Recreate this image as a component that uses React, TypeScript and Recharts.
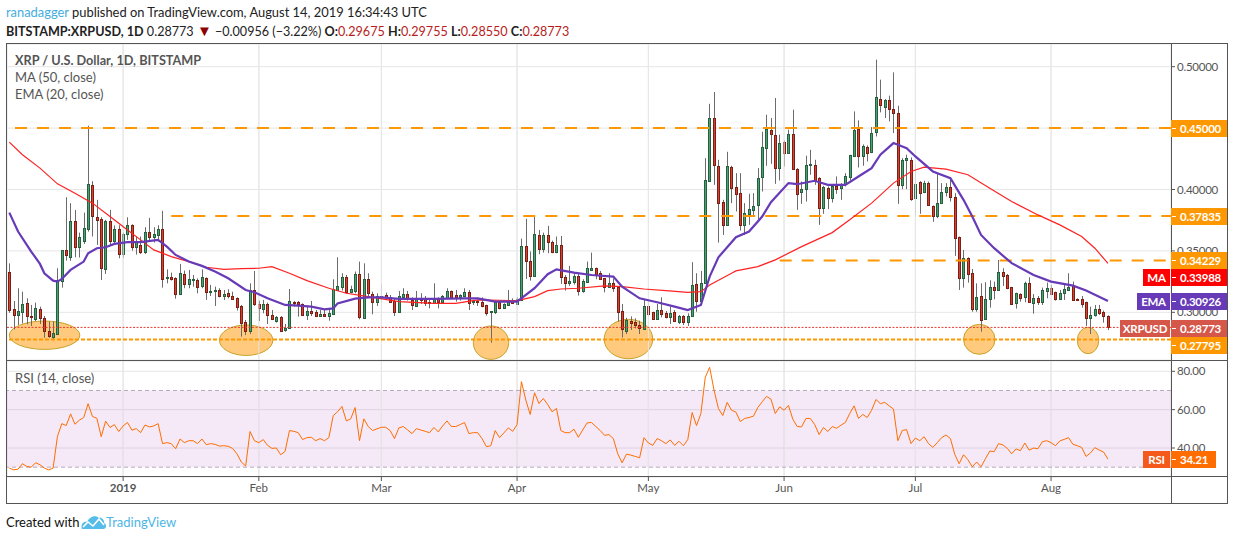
import { Bar, CartesianGrid, ComposedChart, Line, ReferenceArea, ReferenceLine, XAxis, YAxis } from "recharts"

// daily candles, Dec 6 2018 to Aug 14 2019
const opens = [
  .3329,.3024,.2981,.3005,.3076,.2970,.2948,.3024,.2951,.2845,
  .2802,.2826,.3258,.3505,.3454,.3742,.3535,.3581,.3682,.4035,
  .3774,.3758,.3356,.3745,.3581,.3679,.3478,.3636,.3709,.3535,
  .3549,.3492,.3652,.3617,.3633,.3677,.3280,.3285,.3277,.3152,
  .3310,.3234,.3266,.3261,.3217,.3277,.3174,.3177,.3179,.3136,
  .3155,.3130,.3114,.3049,.2918,.2851,.3185,.3071,.3027,.3065,
  .2976,.2932,.2959,.2853,.2872,.3084,.3082,.3065,.2981,.3008,
  .3000,.2970,.2984,.2970,.2989,.3185,.3209,.3285,.3166,.3174,
  .3310,.2956,.3269,.3147,.3087,.3122,.3139,.3128,.3095,.3005,
  .3122,.3147,.3103,.3052,.3114,.3106,.3082,.3079,.3114,.3087,
  .3120,.3171,.3139,.3125,.3133,.3163,.3082,.3090,.3087,.3057,
  .3005,.3003,.3082,.3038,.3062,.3098,.3071,.3103,.3538,.3421,
  .3299,.3628,.3516,.3628,.3576,.3492,.3546,.3285,.3242,.3247,
  .3296,.3177,.3247,.3345,.3359,.3318,.3277,.3209,.3236,.3209,
  .3008,.2851,.2932,.2918,.2897,.2867,.3049,.3000,.2948,.3016,
  .2995,.2965,.3000,.2924,.2970,.2924,.2973,.3231,.3092,.3236,
  .4073,.4582,.4193,.3897,.3707,.4182,.4023,.3970,.3707,.3802,
  .3837,.3870,.4098,.4334,.4487,.4443,.4179,.4386,.4294,.4451,
  .4166,.3976,.4000,.4196,.4198,.4092,.3853,.4014,.3927,.4030,
  .4012,.4041,.4104,.4275,.4492,.4269,.4345,.4302,.4465,.4736,
  .4668,.4728,.4655,.4622,.4033,.4239,.4239,.3927,.4062,.3981,
  .4054,.3864,.3788,.3891,.3976,.4019,.3937,.3611,.3283,.3440,
  .3318,.3030,.3130,.2948,.3106,.3207,.3182,.3329,.3302,.3207,
  .3079,.3147,.3125,.3236,.3079,.3114,.3087,.3177,.3196,.3163,
  .3111,.3160,.3185,.3212,.3106,.3106,.3082,.2956,.2981,.3024,
  .3000,.29675,
]
const highs = [
  .3399,.3092,.3196,.3168,.3114,.3060,.3079,.3046,.2970,.2924,
  .2924,.3359,.3508,.3937,.3889,.3834,.3649,.3812,.4519,.4068,
  .3916,.3774,.3753,.3834,.3707,.3709,.3649,.3774,.3717,.3617,
  .3617,.3693,.3769,.3693,.3709,.3826,.3350,.3323,.3285,.3394,
  .3340,.3345,.3304,.3277,.3350,.3285,.3223,.3209,.3196,.3182,
  .3188,.3168,.3122,.3060,.2937,.3236,.3337,.3095,.3101,.3079,
  .3019,.2970,.2970,.2905,.3190,.3092,.3092,.3073,.3046,.3092,
  .3019,.3019,.3024,.3032,.3269,.3448,.3318,.3304,.3217,.3332,
  .3413,.3399,.3318,.3168,.3155,.3231,.3160,.3141,.3114,.3174,
  .3196,.3174,.3122,.3174,.3155,.3133,.3101,.3236,.3122,.3141,
  .3196,.3177,.3182,.3147,.3196,.3182,.3101,.3101,.3122,.3062,
  .3011,.3095,.3087,.3073,.3182,.3114,.3122,.3600,.3761,.3495,
  .3785,.3671,.3649,.3704,.3584,.3617,.3622,.3304,.3378,.3318,
  .3318,.3269,.3413,.3486,.3364,.3337,.3280,.3318,.3277,.3212,
  .3068,.2956,.2967,.2951,.2932,.3101,.3087,.3005,.3068,.3122,
  .3011,.3046,.3019,.2978,.2978,.2992,.3408,.3318,.3337,.4255,
  .4698,.4794,.4242,.3916,.4307,.4193,.4133,.4133,.3889,.3965,
  .3970,.4174,.4470,.4609,.4582,.4745,.4446,.4399,.4487,.4650,
  .4174,.4065,.4275,.4323,.4242,.4101,.4030,.4025,.4043,.4106,
  .4052,.4133,.4283,.4636,.4563,.4367,.4359,.4508,.5057,.4894,
  .4736,.4764,.4954,.4682,.4255,.4283,.4261,.4201,.4068,.4071,
  .4065,.3870,.4133,.4052,.4052,.4079,.3970,.3617,.3508,.3448,
  .3353,.3236,.3236,.3245,.3261,.3250,.3426,.3359,.3312,.3207,
  .3160,.3155,.3250,.3285,.3149,.3133,.3201,.3242,.3223,.3168,
  .3182,.3236,.3318,.3250,.3114,.3133,.3087,.3046,.3060,.3060,
  .3014,.29755,
]
const lows = [
  .2997,.2861,.2897,.2910,.2902,.2889,.2929,.2905,.2793,.2793,
  .2774,.2815,.3201,.3421,.3419,.3448,.3446,.3557,.3657,.3617,
  .3549,.3263,.3312,.3543,.3549,.3440,.3443,.3590,.3503,.3470,
  .3475,.3475,.3576,.3568,.3576,.3201,.3236,.3258,.3111,.3150,
  .3196,.3196,.3209,.3155,.3196,.3101,.3133,.3052,.3122,.3101,
  .3114,.3101,.3014,.2802,.2815,.2823,.3052,.2929,.2992,.2905,
  .2937,.2916,.2842,.2842,.2870,.3046,.2965,.2976,.2937,.2970,
  .2965,.2965,.2962,.2932,.2984,.3182,.3177,.3160,.3155,.3155,
  .2943,.2951,.3128,.2984,.3052,.3087,.3101,.3079,.2970,.3000,
  .3101,.3095,.3019,.3046,.3068,.3052,.3032,.3073,.3032,.3073,
  .3114,.3122,.3087,.3095,.3122,.3019,.3060,.3052,.3041,.2973,
  .2753,.2986,.3024,.3032,.3060,.3068,.3068,.3101,.3272,.3258,
  .3296,.3473,.3486,.3481,.3481,.3481,.3231,.3177,.3215,.3226,
  .3136,.3160,.3245,.3340,.3269,.3269,.3163,.3204,.3166,.2924,
  .2796,.2823,.2856,.2870,.2823,.2861,.2970,.2943,.2946,.2959,
  .2951,.2905,.2924,.2905,.2897,.2889,.2970,.3005,.3087,.3231,
  .4065,.4038,.3568,.3630,.3707,.3889,.3821,.3666,.3630,.3712,
  .3793,.3753,.3984,.4193,.4209,.4046,.4073,.4188,.4291,.4160,
  .3834,.3883,.3902,.4120,.4038,.3712,.3802,.3840,.3894,.3965,
  .3916,.4025,.4073,.4269,.4179,.4193,.4228,.4296,.4432,.4628,
  .4582,.4554,.4459,.3883,.4003,.4003,.3908,.3780,.3802,.3970,
  .3867,.3737,.3766,.3889,.3943,.3902,.3459,.3182,.3201,.3242,
  .3005,.3005,.2842,.2937,.3038,.3106,.3177,.3215,.3188,.3062,
  .3030,.3087,.3082,.3082,.2989,.3060,.3060,.3114,.3141,.3095,
  .3101,.3101,.3177,.3101,.3095,.3038,.2889,.2823,.2965,.2978,
  .2916,.2855,
]
const closes = [
  .3019,.2978,.3011,.3068,.2973,.2967,.3032,.2956,.2851,.2810,
  .2829,.3261,.3508,.3470,.3742,.3535,.3611,.3685,.4046,.3788,
  .3755,.3364,.3742,.3581,.3679,.3478,.3636,.3709,.3535,.3571,
  .3492,.3655,.3617,.3636,.3677,.3274,.3285,.3274,.3152,.3318,
  .3234,.3269,.3269,.3209,.3288,.3168,.3177,.3179,.3133,.3147,
  .3133,.3111,.3046,.2916,.2851,.3185,.3071,.3038,.3065,.2981,
  .2948,.2959,.2851,.2875,.3090,.3079,.3068,.2981,.3008,.2997,
  .2973,.2984,.2967,.2992,.3188,.3212,.3285,.3168,.3188,.3310,
  .2965,.3269,.3155,.3087,.3130,.3136,.3122,.3087,.3005,.3130,
  .3147,.3106,.3060,.3114,.3103,.3079,.3073,.3114,.3087,.3130,
  .3171,.3128,.3125,.3141,.3163,.3079,.3092,.3084,.3052,.2995,
  .3011,.3082,.3038,.3065,.3095,.3079,.3106,.3538,.3421,.3299,
  .3636,.3519,.3628,.3576,.3492,.3546,.3285,.3242,.3253,.3296,
  .3177,.3253,.3359,.3359,.3312,.3274,.3209,.3236,.3201,.3005,
  .2861,.2937,.2916,.2897,.2872,.3049,.2984,.2948,.3016,.2986,
  .2962,.2995,.2932,.2970,.2924,.2970,.3223,.3092,.3236,.4079,
  .4582,.4196,.3886,.3707,.4193,.4012,.3967,.3707,.3807,.3840,
  .3867,.4092,.4345,.4492,.4448,.4179,.4378,.4294,.4451,.4166,
  .3967,.4003,.4198,.4209,.4079,.3853,.4019,.3927,.4030,.4003,
  .4043,.4109,.4280,.4487,.4269,.4353,.4294,.4459,.4753,.4685,
  .4728,.4652,.4620,.4033,.4239,.4258,.3924,.4043,.3973,.4054,
  .3870,.3788,.3891,.3981,.4019,.3935,.3603,.3283,.3440,.3315,
  .3030,.3125,.2937,.3106,.3204,.3185,.3326,.3299,.3201,.3071,
  .3155,.3120,.3236,.3087,.3114,.3087,.3179,.3198,.3152,.3111,
  .3155,.3188,.3207,.3103,.3103,.3071,.2951,.2978,.3027,.2995,
  .2973,.28773,
]

const rsi = [
  29.5,28.6,29,31.8,30.4,30,32.3,31.3,29.5,28.6,
  29.5,46.1,52.7,51.7,57.8,52.4,54.5,55.9,63.1,56.4,
  55.5,45.9,54,50.7,52.2,48.6,51.5,53.3,49.3,50.1,
  48,52,51,51.5,52.7,42.3,42.8,42.3,39.6,44.7,
  42.8,43.8,43.8,42.3,44.7,41.7,42.3,41.9,41,41.2,
  40.9,39.8,37,32.7,30.6,48.6,43.8,42.8,44.4,41.4,
  39.8,40,36.5,38.2,49.1,48.7,48,44.4,45.4,45.6,
  43.8,44.9,43.8,45.4,56.9,58.9,61.7,54.1,55.2,61.1,
  43.8,55.2,51.2,49.1,50,50.8,50.8,49.1,44.9,50.5,
  51.2,49.4,47.5,50.1,49.4,48.7,48,50.7,48.4,51.5,
  54.1,51.2,51.2,52.2,53.3,47.5,48,48,44.9,40.7,
  41.2,49.1,45.4,47.9,50.5,48.7,52.2,74.6,65,57.5,
  68.8,63.2,65.8,62.7,58.9,60.6,49.1,48,48,49.8,
  45.6,49.4,53.1,53.3,51.2,49.1,46.6,47,44.9,37,
  32.3,36.8,36.3,35.6,34.9,45.4,42.6,41.4,44.9,43.8,
  42.3,44.2,41.4,43.5,41.2,44.4,58.5,51.7,58,76.9,
  82.1,70.2,60.6,56.9,63.8,59.7,58.7,53.8,55.4,55.9,
  56.6,61.1,64.1,66.9,65.5,58,61.5,59.7,62.2,55,
  51.2,51,55.4,55.4,52.2,47,50.7,48.6,51.2,50.3,
  51.9,53.3,58,62,55.4,57.5,55.9,59.7,65.3,63.1,
  63.8,62,60.3,43.8,49.1,49.6,42.3,45.2,43.8,45.9,
  42.3,40.3,42.8,45.4,46.8,44.9,36.7,31.8,36.5,33.9,
  30.2,32.7,30.2,34.4,38.4,38.1,42.3,41.6,39.8,37,
  39.5,38.6,42.6,38.9,40,39.6,43.3,43.8,42.8,41.2,
  43.7,44.5,45.4,41.9,41.2,40.3,35.6,37.4,40.2,38.9,
  37.9,34.21,
]

// moving averages were read at their bends, the line joins the days in between
const emaDays = [0,2,5,7,8,10,11,12,14,17,18,20,22,24,27,30,34,36,38,41,44,47,50,54,56,59,63,66,69,72,74,75,79,82,85,89,97,104,107,111,116,120,123,125,129,133,138,140,144,148,152,155,158,160,162,166,169,172,174,178,180,184,187,191,194,197,199,202,205,207,211,215,218,220,222,225,229,234,238,243,246,251]
const emaValues = [.3812,.3658,.3495,.3394,.3318,.3258,.3250,.3272,.3345,.3413,.3481,.3522,.3530,.3557,.3571,.3571,.3590,.3535,.3467,.3413,.3378,.3332,.3277,.3182,.3163,.3114,.3060,.3054,.3046,.3024,.3032,.3073,.3111,.3122,.3122,.3109,.3109,.3114,.3114,.3087,.3087,.3196,.3310,.3350,.3323,.3304,.3291,.3209,.3114,.3082,.3046,.3019,.3060,.3291,.3448,.3611,.3658,.3780,.3897,.4052,.4043,.4071,.4038,.4038,.4106,.4174,.4283,.4378,.4337,.4269,.4147,.4092,.3916,.3780,.3630,.3522,.3400,.3304,.3250,.3217,.3177,.30926]
const maDays = [0,3,7,11,15,19,23,27,30,33,37,41,45,49,53,57,60,64,68,73,77,82,89,97,102,107,116,120,123,126,130,136,140,145,150,155,158,160,165,166,171,175,181,188,192,197,202,206,209,214,219,224,229,235,240,245,248,251]
const maValues = [.4386,.4283,.4174,.4046,.3970,.3889,.3780,.3671,.3590,.3508,.3454,.3413,.3367,.3350,.3356,.3359,.3372,.3318,.3258,.3196,.3155,.3128,.3087,.3073,.3073,.3101,.3095,.3128,.3177,.3190,.3196,.3215,.3209,.3190,.3177,.3163,.3168,.3223,.3318,.3337,.3372,.3427,.3535,.3649,.3753,.3889,.4052,.4147,.4182,.4166,.4120,.4011,.3902,.3793,.3712,.3617,.3522,.33988]

const monthTicks = [26, 57, 85, 116, 146, 177, 207, 238]
const monthLabels = ["2019", "Feb", "Mar", "Apr", "May", "Jun", "Jul", "Aug"]
const priceTicks = [0.3, 0.35, 0.4, 0.45, 0.5]
const rsiTicks = [40, 60, 80]

const table = opens.map((open, i) => ({
  day: i,
  open,
  high: highs[i],
  low: lows[i],
  close: closes[i],
  rsi: rsi[i],
  ema: emaDays.includes(i) ? emaValues[emaDays.indexOf(i)] : null,
  ma: maDays.includes(i) ? maValues[maDays.indexOf(i)] : null,
}))

const FONT = "Lato, 'Open Sans', sans-serif"
const AXIS_COLOR = "#555"
const GRID = "#e6e6e6"
const LEVEL = "#ff9800"
const xDomain = [-0.53, 265.4]

function Candle(props: any) {
  const { x, width, y, height, payload } = props
  const h = Math.abs(height)
  const perUnit = h / (payload.high - payload.low)
  const cx = Math.round(x + width / 2) + 0.5
  const up = payload.close >= payload.open
  const top = Math.round(y + (payload.high - Math.max(payload.open, payload.close)) * perUnit) + 0.5
  const bottom = Math.round(y + (payload.high - Math.min(payload.open, payload.close)) * perUnit) + 0.5
  return (
    <g>
      <line x1={cx} x2={cx} y1={y} y2={y + h} stroke="#6b6b6b" strokeWidth={1} />
      <rect
        x={cx - 1}
        y={top}
        width={2}
        height={Math.max(bottom - top, 1)}
        fill={up ? "#4f9f76" : "#d8412f"}
        stroke={up ? "#25613f" : "#7a1f14"}
        strokeWidth={1}
      />
    </g>
  )
}

function Ellipse(props: any) {
  const { x, y, width, height } = props
  return (
    <ellipse
      cx={x + width / 2}
      cy={y + height / 2}
      rx={width / 2}
      ry={height / 2}
      fill="#ffa726"
      fillOpacity={0.6}
      stroke="#c9a227"
      strokeWidth={1}
    />
  )
}

function MonthTick(props: any) {
  const { x, y, payload } = props
  const label = monthLabels[monthTicks.indexOf(payload.value)]
  return (
    <text
      x={x}
      y={y + 9}
      textAnchor="middle"
      fontFamily={FONT}
      fontSize={11.5}
      fontWeight={label === "2019" ? 700 : 400}
      fill={AXIS_COLOR}
    >
      {label}
    </text>
  )
}

function Tag({ top, value, name, color, nameColor, nameLeft, right = 1227 }: any) {
  return (
    <>
      {name ? (
        <div
          style={{
            position: "absolute",
            left: nameLeft,
            top,
            width: 1170 - nameLeft,
            height: 17,
            lineHeight: "17px",
            textAlign: "center",
            background: nameColor || color,
            color: "#fff",
            fontSize: 11.5,
            letterSpacing: -0.25,
            fontWeight: 700,
          }}
        >
          {name}
        </div>
      ) : null}
      <div
        style={{
          position: "absolute",
          left: 1171,
          top,
          width: right - 1171,
          height: 17,
          lineHeight: "17px",
          background: color,
          color: "#fff",
          fontSize: 11.5,
          letterSpacing: -0.25,
          fontWeight: 700,
          paddingLeft: 9,
          boxSizing: "border-box",
        }}
      >
        <span style={{ position: "absolute", left: 1, top: 8, width: 4, height: 1, background: "#fff" }} />
        {value}
      </div>
    </>
  )
}

function Rule({ left, top, width, height }: any) {
  return <div style={{ position: "absolute", left, top, width, height, background: AXIS_COLOR }} />
}

function Logo() {
  return (
    <svg width="26" height="16" viewBox="0 0 26 16" style={{ position: "absolute", left: 81, top: 514 }}>
      <path
        d="M1 15 C-1 10 3 7 6 8 C8 3 14 0 18 4 C20 3 24 6 23 9 C26 10 26 15 22 15 Z"
        fill="#56bde8"
      />
      <path d="M2 13 L7 8 L12 12 L18 5 L23 11" fill="none" stroke="#fff" strokeWidth={1.6} />
    </svg>
  )
}

const axisTick = { fontSize: 11.5, fill: AXIS_COLOR, fontFamily: FONT, letterSpacing: -0.25 }

export default function App() {
  return (
    <div
      style={{
        position: "absolute",
        left: 0,
        top: 0,
        width: 1234,
        height: 540,
        background: "#fff",
        fontFamily: FONT,
        overflow: "hidden",
      }}
    >
      <div style={{ position: "absolute", left: 6, top: 4, fontSize: 12.9, lineHeight: "17px", color: "#222", whiteSpace: "pre" }}>
        <span style={{ color: "#45ade0" }}>ranadagger</span> published on TradingView.com, August 14, 2019 16:34:43 UTC
      </div>
      <div style={{ position: "absolute", left: 6, top: 22, fontSize: 12.6, lineHeight: "17px", color: "#222", whiteSpace: "pre" }}>
        <b>BITSTAMP:XRPUSD, 1D</b> 0.28773 <span style={{ color: "#8b0000", fontSize: 15 }}>▼</span> −0.00956 (−3.22%) <b>O:</b>
        <span style={{ color: "#b71c1c" }}>0.29675</span> <b>H:</b>
        <span style={{ color: "#b71c1c" }}>0.29755</span> <b>L:</b>
        <span style={{ color: "#b71c1c" }}>0.28550</span> <b>C:</b>
        <span style={{ color: "#b71c1c" }}>0.28773</span>
      </div>

      <div style={{ position: "absolute", left: 0, top: 0 }}>
        <ComposedChart width={1234} height={361} data={table} margin={{ top: 44, right: 0, bottom: 1, left: 7 }}>
          <CartesianGrid stroke={GRID} strokeWidth={1} />
          <XAxis dataKey="day" type="number" domain={xDomain} ticks={monthTicks} hide allowDataOverflow />
          <YAxis
            orientation="right"
            width={63}
            type="number"
            domain={[0.26118, 0.51846]}
            ticks={priceTicks}
            allowDataOverflow
            axisLine={false}
            tickLine={{ stroke: AXIS_COLOR }}
            tickSize={4}
            tickFormatter={(v: number) => v.toFixed(5)}
            tick={axisTick}
          />
          {monthTicks.map((t) => (
            <ReferenceLine key={t} x={t} stroke={GRID} />
          ))}
          <ReferenceLine y={0.45} stroke={LEVEL} strokeWidth={2} strokeDasharray="12 10" />
          <ReferenceLine segment={[{ x: 37, y: 0.37835 }, { x: xDomain[1], y: 0.37835 }]} stroke={LEVEL} strokeWidth={2} strokeDasharray="12 10" />
          <ReferenceLine segment={[{ x: 176, y: 0.34229 }, { x: xDomain[1], y: 0.34229 }]} stroke={LEVEL} strokeWidth={2} strokeDasharray="12 10" />
          <ReferenceLine y={0.28773} stroke="#e8382f" strokeWidth={1} strokeDasharray="2 1.5" />
          <ReferenceLine y={0.27795} stroke={LEVEL} strokeWidth={2} strokeDasharray="4 2" />
          <Bar dataKey={(d: any) => [d.low, d.high]} shape={Candle} barSize={4} isAnimationActive={false} />
          <Line dataKey="ma" stroke="#ff2222" strokeWidth={1.2} dot={false} connectNulls isAnimationActive={false} />
          <Line dataKey="ema" stroke="#673ab7" strokeWidth={2.2} dot={false} connectNulls isAnimationActive={false} />
          <ReferenceArea x1={0} x2={16.1} y1={0.2698} y2={0.2929} shape={Ellipse} />
          <ReferenceArea x1={48} x2={60.2} y1={0.2649} y2={0.2897} shape={Ellipse} />
          <ReferenceArea x1={106} x2={114.1} y1={0.2617} y2={0.2889} shape={Ellipse} />
          <ReferenceArea x1={135.9} x2={147} y1={0.2622} y2={0.2943} shape={Ellipse} />
          <ReferenceArea x1={218} x2={225.2} y1={0.2658} y2={0.2902} shape={Ellipse} />
          <ReferenceArea x1={244} x2={248.9} y1={0.2663} y2={0.2878} shape={Ellipse} />
        </ComposedChart>
      </div>

      <div style={{ position: "absolute", left: 0, top: 361 }}>
        <ComposedChart width={1234} height={143} data={table} margin={{ top: 0, right: 0, bottom: 0, left: 7 }}>
          <CartesianGrid stroke={GRID} strokeWidth={1} />
          <XAxis
            dataKey="day"
            type="number"
            domain={xDomain}
            ticks={monthTicks}
            height={27}
            allowDataOverflow
            axisLine={false}
            tickLine={{ stroke: AXIS_COLOR }}
            tickSize={4}
            tick={MonthTick}
          />
          <YAxis
            orientation="right"
            width={63}
            type="number"
            domain={[24.88, 85.37]}
            ticks={rsiTicks}
            allowDataOverflow
            axisLine={false}
            tickLine={{ stroke: AXIS_COLOR }}
            tickSize={4}
            tickFormatter={(v: number) => v.toFixed(2)}
            tick={axisTick}
          />
          {monthTicks.map((t) => (
            <ReferenceLine key={t} x={t} stroke={GRID} />
          ))}
          <ReferenceArea y1={30} y2={70} fill="#9c27b0" fillOpacity={0.1} stroke="none" />
          <ReferenceLine y={70} stroke="#b7a9bd" strokeDasharray="4 3" />
          <ReferenceLine y={30} stroke="#b7a9bd" strokeDasharray="4 3" />
          <Line dataKey="rsi" stroke="#ff6d00" strokeWidth={1} dot={false} isAnimationActive={false} />
        </ComposedChart>
      </div>

      <Rule left={6} top={43} width={1222} height={1} />
      <Rule left={6} top={360} width={1222} height={1} />
      <Rule left={6} top={476} width={1222} height={1} />
      <Rule left={6} top={503} width={1222} height={1} />
      <Rule left={6} top={43} width={1} height={461} />
      <Rule left={1171} top={43} width={1} height={461} />
      <Rule left={1227} top={43} width={1} height={461} />

      <div style={{ position: "absolute", left: 15, top: 52, fontSize: 12.7, lineHeight: "17px", color: "#555", fontWeight: 700 }}>
        XRP / U.S. Dollar, 1D, BITSTAMP
      </div>
      <div style={{ position: "absolute", left: 15, top: 69, fontSize: 13, lineHeight: "17px", color: "#555" }}>MA (50, close)</div>
      <div style={{ position: "absolute", left: 15, top: 86, fontSize: 13, lineHeight: "17px", color: "#555" }}>EMA (20, close)</div>
      <div style={{ position: "absolute", left: 15, top: 370, fontSize: 13, lineHeight: "17px", color: "#555" }}>RSI (14, close)</div>

      <Tag top={120} value="0.45000" color={LEVEL} />
      <Tag top={208} value="0.37835" color={LEVEL} />
      <Tag top={252} value="0.34229" color={LEVEL} />
      <Tag top={269} value="0.33988" name="MA" color="#ff0000" nameLeft={1143} />
      <Tag top={293} value="0.30926" name="EMA" color="#673ab7" nameLeft={1137} />
      <Tag top={320} value="0.28773" name="XRPUSD" color="#d5574a" nameLeft={1120} />
      <Tag top={337} value="0.27795" color={LEVEL} />
      <Tag top={451} value="34.21" name="RSI" color="#ff6d00" nameColor="#f4581a" nameLeft={1143} right={1216} />

      <div style={{ position: "absolute", left: 6, top: 514, fontSize: 13, lineHeight: "17px", color: "#111" }}>Created with</div>
      <Logo />
      <div style={{ position: "absolute", left: 106, top: 514, fontSize: 13, lineHeight: "17px", color: "#4db6e6" }}>TradingView</div>
    </div>
  )
}
